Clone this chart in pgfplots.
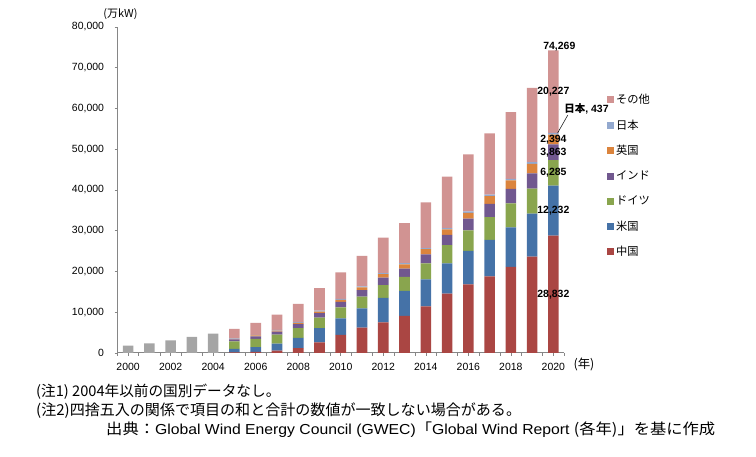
\documentclass[border=0pt]{standalone}
\usepackage{pgfplots}
\pgfplotsset{compat=1.18}
\usepackage{pgfplotstable}
\usepackage{fontspec}
\setmainfont{Liberation Sans}
\newfontfamily\jp{Noto Sans CJK JP}

\definecolor{cCN}{HTML}{AA4643}
\definecolor{cUS}{HTML}{4572A7}
\definecolor{cDE}{HTML}{89A54E}
\definecolor{cIN}{HTML}{71588F}
\definecolor{cUK}{HTML}{DB843D}
\definecolor{cJP}{HTML}{93A9CF}
\definecolor{cOT}{HTML}{D19392}
\definecolor{cGR}{HTML}{A5A5A5}
\definecolor{axgray}{HTML}{868686}

\pgfplotsset{sqlegend/.style={legend image code/.code={\fill[##1] (0bp,-3.5bp) rectangle (7bp,3.5bp);}}}

\pgfplotstableread{
x  cn    us    de   ind  uk   jp  ot    gr
0  0     0     0    0    0    0   0     1800
1  0     0     0    0    0    0   0     2390
2  0     0     0    0    0    0   0     3110
3  0     0     0    0    0    0   0     3940
4  0     0     0    0    0    0   0     4760
5  126   915   1840 443  135  106 2345  0
6  260   1160  2060 627  196  131 2956  0
7  590   1680  2220 785  239  154 3722  0
8  1200  2520  2390 960  324  188 4488  0
9  2580  3510  2580 1090 405  206 5529  0
10 4470  4020  2720 1310 520  230 6520  0
11 6240  4690  2910 1610 650  250 7460  0
12 7530  6000  3130 1840 840  260 8700  0
13 9140  6110  3430 2020 1070 270 9830  0
14 11460 6590  3920 2250 1240 280 11250 0
15 14540 7450  4490 2510 1360 300 12640 0
16 16870 8220  5000 2870 1450 320 14040 0
17 18820 8910  5610 3280 1890 340 15060 0
18 21140 9670  5930 3510 2090 370 16390 0
19 23640 10540 6140 3750 2350 390 18270 0
20 28832 12232 6285 3863 2394 437 20227 0
}\windtable

\begin{document}
\begin{tikzpicture}
\path[use as bounding box] (0,0) rectangle (756bp,457bp);
\begin{axis}[
  at={(117.5bp,104bp)}, anchor=south west,
  scale only axis, width=446.5bp, height=326bp,
  ybar stacked, bar width=10.6bp,
  xmin=-0.5, xmax=20.5, ymin=0, ymax=80000,
  axis x line*=bottom, axis y line*=left,
  axis line style={axgray, line width=1bp},
  tick style={axgray, line width=0.6bp},
  tick align=outside,
  xtick={0,2,...,20},
  xticklabels={2000,2002,2004,2006,2008,2010,2012,2014,2016,2018,2020},
  minor xtick={-0.5,0.5,...,20.5},
  ytick={0,10000,...,80000},
  major tick length=3bp,
  minor tick length=3bp,
  scaled y ticks=false,
  yticklabel={\pgfmathprintnumber[fixed,1000 sep={,},assume math mode=true]{\tick}},
  tick label style={font=\fontsize{10.5}{12}\selectfont},
  x tick label style={yshift=-4bp},
  y tick label style={xshift=-7bp},
  clip=false,
  reverse legend,
  legend cell align=left,
  legend style={draw=none, fill=none, at={(1.096,0.80)}, anchor=north west,
    font=\jp\fontsize{11.3}{13}\selectfont, row sep=10.6bp, inner sep=0pt},
  sqlegend,
]
\addplot[fill=cGR, draw=none, forget plot] table[x=x, y=gr] {\windtable};
\addplot[fill=cCN, draw=none] table[x=x, y=cn] {\windtable};
\addplot[fill=cUS, draw=none] table[x=x, y=us] {\windtable};
\addplot[fill=cDE, draw=none] table[x=x, y=de] {\windtable};
\addplot[fill=cIN, draw=none] table[x=x, y=ind] {\windtable};
\addplot[fill=cUK, draw=none] table[x=x, y=uk] {\windtable};
\addplot[fill=cJP, draw=none] table[x=x, y=jp] {\windtable};
\addplot[fill=cOT, draw=none] table[x=x, y=ot] {\windtable};
\legend{中国,米国,ドイツ,インド,英国,日本,その他}

\coordinate (lCN) at (axis cs:20,14416);
\coordinate (lUS) at (axis cs:20,34948);
\coordinate (lDE) at (axis cs:20,44206);
\coordinate (lIN) at (axis cs:20,49280);
\coordinate (lUK) at (axis cs:20,52409);
\coordinate (lOT) at (axis cs:20,64156);
\coordinate (lTOT) at (axis cs:20.28,74500);
\coordinate (jpA) at (axis cs:20.2,53990);
\coordinate (jpB) at (axis cs:20.68,58400);
\coordinate (lJP) at (axis cs:21.56,59880);
\end{axis}
\begin{scope}[every node/.style={font=\bfseries\fontsize{10.5}{12}\selectfont, inner sep=0pt}]
\node at (lCN) {28,832};
\node at (lUS) {12,232};
\node at (lDE) {6,285};
\node at (lIN) {3,863};
\node at (lUK) {2,394};
\node at (lOT) {20,227};
\node[anchor=base] at (lTOT) {74,269};
\draw[black, line width=0.5bp] (jpA) -- (jpB);
\node at (lJP) {{\jp 日本}, 437};
\end{scope}
\node[font=\jp\fontsize{11}{13}\selectfont, inner sep=0pt] at (120.5bp,443bp) {(万kW)};
\node[font=\jp\fontsize{12.5}{14}\selectfont, inner sep=0pt] at (584bp,93bp) {(年)};
\begin{scope}[every node/.style={inner sep=0pt, anchor=west}]
\node[font=\jp\fontsize{14.7}{16}\selectfont] at (36bp,65bp) {(注1) 2004年以前の国別データなし。};
\node[font=\jp\fontsize{15.1}{16}\selectfont] at (36bp,46bp) {(注2)四捨五入の関係で項目の和と合計の数値が一致しない場合がある。};
\node[font=\jp\fontsize{15}{16}\selectfont, xscale=1.09, transform shape] at (106bp,27bp) {出典：{\rmfamily\fontsize{14.5}{16}\selectfont Global Wind Energy Council (GWEC)}「{\rmfamily\fontsize{14.5}{16}\selectfont Global Wind Report }(各年)」を基に作成};
\end{scope}
\end{tikzpicture}
\end{document}
